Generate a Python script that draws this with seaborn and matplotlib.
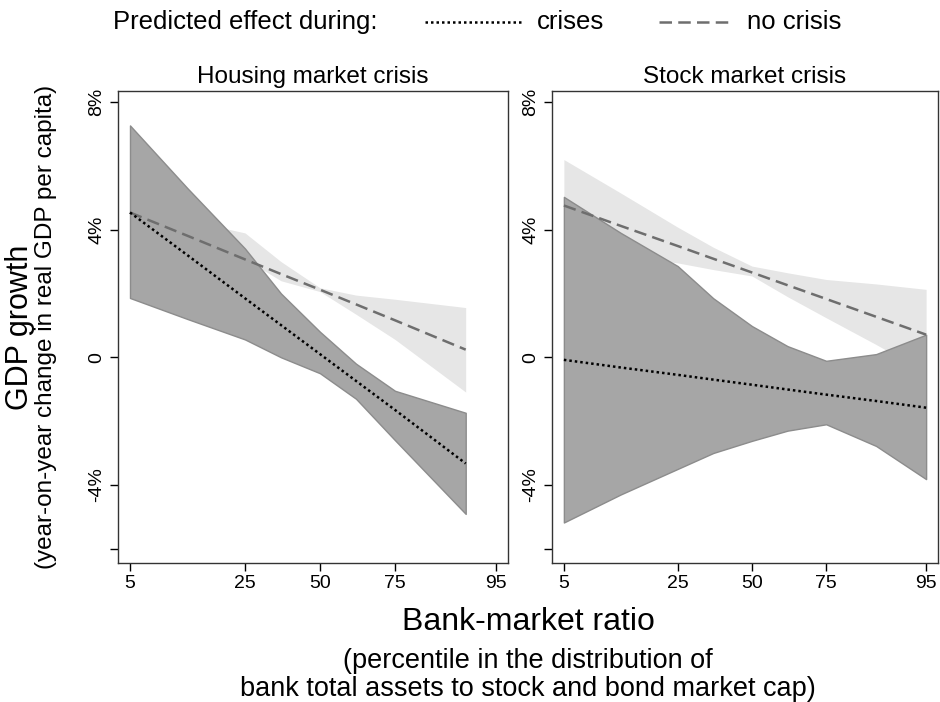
import numpy as np
import pandas as pd
import matplotlib
matplotlib.use("Agg")
import matplotlib.pyplot as plt
import seaborn as sns

# tick percentiles and their positions on the (non-linear) x scale
tick_pct = [5, 25, 50, 75, 95]
tick_pos = [0, 115, 190, 265, 366]

# Housing market crisis panel
h_pct = [5, 15, 25, 37, 50, 62, 75, 89]
h_crisis = [4.54, 3.20, 1.85, 1.01, 0.10, -0.74, -1.65, -3.33]
h_crisis_hi = [7.27, 5.3, 3.41, 2.0, 0.8, -0.2, -1.05, -1.74]
h_crisis_lo = [1.86, 1.2, 0.56, 0.0, -0.5, -1.3, -2.6, -4.91]
h_nocrisis = [4.54, 3.81, 3.07, 2.61, 2.12, 1.66, 1.16, 0.24]
h_nocrisis_hi = [4.46, 4.3, 3.9, 3.0, 2.18, 1.95, 1.82, 1.56]
h_nocrisis_lo = [4.4, 3.75, 3.08, 2.4, 2.06, 1.35, 0.56, -1.09]

# Stock market crisis panel
s_pct = [5, 15, 25, 37, 50, 62, 75, 85, 95]
s_crisis = [-0.08, -0.32, -0.55, -0.70, -0.86, -1.01, -1.17, -1.37, -1.58]
s_crisis_hi = [5.03, 3.9, 2.86, 1.85, 0.98, 0.35, -0.11, 0.1, 0.71]
s_crisis_lo = [-5.18, -4.3, -3.5, -3.0, -2.62, -2.3, -2.1, -2.78, -3.82]
s_nocrisis = [4.76, 4.12, 3.49, 3.09, 2.66, 2.26, 1.83, 1.27, 0.71]
s_nocrisis_hi = [6.2, 5.15, 4.08, 3.45, 2.86, 2.65, 2.44, 2.3, 2.13]
s_nocrisis_lo = [3.4, 3.2, 2.96, 2.75, 2.55, 1.9, 1.24, 0.4, -0.48]

ytick_vals = [8, 4, 0, -4, -6]
ytick_labels = ["8%", "4%", "0", "-4%", ""]

sns.set_style("white")
plt.rcParams["font.family"] = ["Liberation Sans", "DejaVu Sans"]
plt.rcParams["text.color"] = "black"
plt.rcParams["xtick.color"] = "black"
plt.rcParams["ytick.color"] = "black"

fig = plt.figure(figsize=(9.4, 7.02), dpi=100)
W, H = 940, 702
ax1 = fig.add_axes([118 / W, 1 - 563 / H, 390 / W, 472 / H])
ax2 = fig.add_axes([552 / W, 1 - 563 / H, 386 / W, 472 / H])

panels = [
    (ax1, "Housing market crisis", h_pct, h_crisis, h_crisis_hi, h_crisis_lo,
     h_nocrisis, h_nocrisis_hi, h_nocrisis_lo),
    (ax2, "Stock market crisis", s_pct, s_crisis, s_crisis_hi, s_crisis_lo,
     s_nocrisis, s_nocrisis_hi, s_nocrisis_lo),
]

for ax, title, pct, cr, cr_hi, cr_lo, nc, nc_hi, nc_lo in panels:
    x = np.interp(pct, tick_pct, tick_pos)
    ax.fill_between(x, nc_lo, nc_hi, color="#e6e6e6", lw=0, zorder=1)
    ax.fill_between(x, cr_lo, cr_hi, facecolor="#a6a6a6", edgecolor="#8c8c8c",
                    lw=1, zorder=2)
    df = pd.DataFrame({"x": x, "crisis": cr, "nocrisis": nc})
    sns.lineplot(data=df, x="x", y="nocrisis", ax=ax, color="#6e6e6e", lw=1.8,
                 linestyle=(0, (5, 2.5)), zorder=3)
    sns.lineplot(data=df, x="x", y="crisis", ax=ax, color="black", lw=1.8,
                 linestyle=(0, (1, 1.2)), zorder=4)
    ax.set_xlim(-12, 378)
    ax.set_ylim(-6.45, 8.35)
    ax.set_xticks(tick_pos)
    ax.set_xticklabels([str(t) for t in tick_pct], fontsize=14)
    ax.set_yticks(ytick_vals)
    ax.set_yticklabels(ytick_labels, fontsize=14, rotation=90, va="center")
    ax.tick_params(axis="both", direction="out", length=6, width=1, color="black",
                   left=True, bottom=True, pad=3)
    ax.set_xlabel("")
    ax.set_ylabel("")
    for sp in ax.spines.values():
        sp.set_color("#333333")
        sp.set_linewidth(1)
    ax.set_title(title, fontsize=17.5, pad=6)

# legend row at top
ly = 1 - 22 / H
fig.text(113 / W, ly, "Predicted effect during:", fontsize=18.5, va="center")
fig.add_artist(plt.Line2D([425 / W, 522 / W], [ly, ly], color="black",
                          lw=1.8, linestyle=(0, (1, 1.2))))
fig.text(537 / W, ly, "crises", fontsize=18.5, va="center")
fig.add_artist(plt.Line2D([659 / W, 733 / W], [ly, ly], color="#6e6e6e",
                          lw=1.8, linestyle=(0, (5, 2.5))))
fig.text(747 / W, ly, "no crisis", fontsize=18.5, va="center")

# axis titles
fig.text(20 / W, 1 - 327 / H, "GDP growth", fontsize=22, rotation=90,
         ha="center", va="center")
fig.text(46 / W, 1 - 327 / H, "(year-on-year change in real GDP per capita)",
         fontsize=17.5, rotation=90, ha="center", va="center")
fig.text(528 / W, 1 - 622 / H, "Bank-market ratio", fontsize=23,
         ha="center", va="center")
fig.text(528 / W, 1 - 675 / H,
         "(percentile in the distribution of\nbank total assets to stock and bond market cap)",
         fontsize=19.5, ha="center", va="center", linespacing=1.05)

fig.savefig("out.png", dpi=100)
